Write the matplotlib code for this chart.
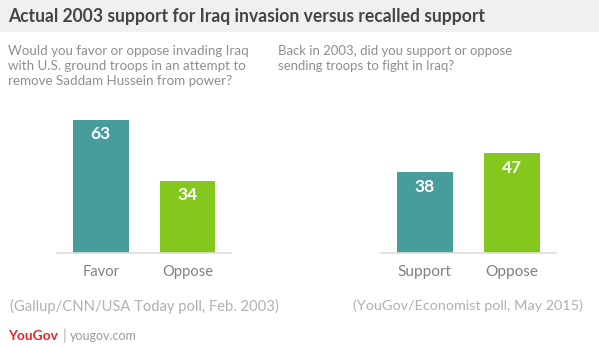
import matplotlib
matplotlib.use("Agg")
from matplotlib import pyplot as plt
from matplotlib.patches import Rectangle

W, H = 599, 347

title = "Actual 2003 support for Iraq invasion versus recalled support"
left_question = "Would you favor or oppose invading Iraq\nwith U.S. ground troops in an attempt to\nremove Saddam Hussein from power?"
right_question = "Back in 2003, did you support or oppose\nsending troops to fight in Iraq?"

left_labels = ["Favor", "Oppose"]
left_values = [63, 34]
left_source = "(Gallup/CNN/USA Today poll, Feb. 2003)"

right_labels = ["Support", "Oppose"]
right_values = [38, 47]
right_source = "(YouGov/Economist poll, May 2015)"

teal = "#489c9c"
green = "#84c81e"

plt.rcParams['font.family'] = ['Lato', 'DejaVu Sans']

fig = plt.figure(figsize=(W / 100, H / 100), dpi=100)
renderer = fig.canvas.get_renderer()


def fx(px):
    return px / W


def fy(py):
    return 1 - py / H


def fit(txt, target_px):
    # scale the font so the widest line of the text is target_px wide
    w = txt.get_window_extent(renderer).width
    txt.set_fontsize(txt.get_fontsize() * target_px / w)
    return txt


# title band
fig.patches.append(Rectangle((0, fy(32)), 1, 32 / H, transform=fig.transFigure,
                             facecolor="#f0f0f0", edgecolor="none", zorder=0))
fit(fig.text(fx(8), fy(16.5), title, fontsize=12, fontweight="bold", color="#454545",
             va="center", ha="left"), 475)

lq = fig.text(fx(8), fy(45), left_question, fontsize=10, color="#8e8e8e",
              va="top", ha="left", linespacing=1.32)
fit(lq, 241)
rq = fig.text(fx(278), fy(45), right_question, fontsize=10, color="#8e8e8e",
              va="top", ha="left", linespacing=1.32)
fit(rq, 235)


def draw_panel(x0, x1, labels, values, source, label_px, source_px):
    ax = fig.add_axes([fx(x0), fy(252.5), fx(x1) - fx(x0), 147.7 / H])
    ax.bar(range(len(values)), values, width=0.64, color=[teal, green])
    for i, v in enumerate(values):
        ax.text(i, v - 3.0, str(v), ha="center", va="top", color="white",
                fontsize=12.5, fontweight="bold")
    ax.set_xlim(-0.5, 1.5)
    ax.set_ylim(0, 70)
    for side in ["top", "left", "right"]:
        ax.spines[side].set_visible(False)
    ax.spines["bottom"].set_color("#dddddd")
    ax.spines["bottom"].set_linewidth(1.2)
    ax.set_yticks([])
    ax.set_xticks(range(len(labels)))
    ticks = ax.set_xticklabels(labels, fontsize=12, color="#808080")
    fig.canvas.draw()
    w = ticks[0].get_window_extent(renderer).width
    for t in ticks:
        t.set_fontsize(12 * label_px / w)
    ax.tick_params(axis="x", length=0, pad=9)
    ax.patch.set_visible(False)
    fit(fig.text(fx((x0 + x1) / 2), fy(306), source, ha="center", va="center",
                 fontsize=10.7, color="#b0b0b0"), source_px)


draw_panel(57.3, 231, left_labels, left_values, left_source, 37, 269)
draw_panel(381, 555.7, right_labels, right_values, right_source, 54, 230)

# YouGov footer
fit(fig.text(fx(8), fy(336), "YouGov", fontsize=10.5, fontweight="bold",
             color="#e3262b", va="center", ha="left"), 50)
fig.text(fx(63), fy(336), "|", fontsize=11, color="#b0b0b0", va="center", ha="left")
fit(fig.text(fx(70), fy(336), "yougov.com", fontsize=9.6, color="#9a9a9a",
             va="center", ha="left"), 67)

fig.savefig("out.png", dpi=100, facecolor="white")
